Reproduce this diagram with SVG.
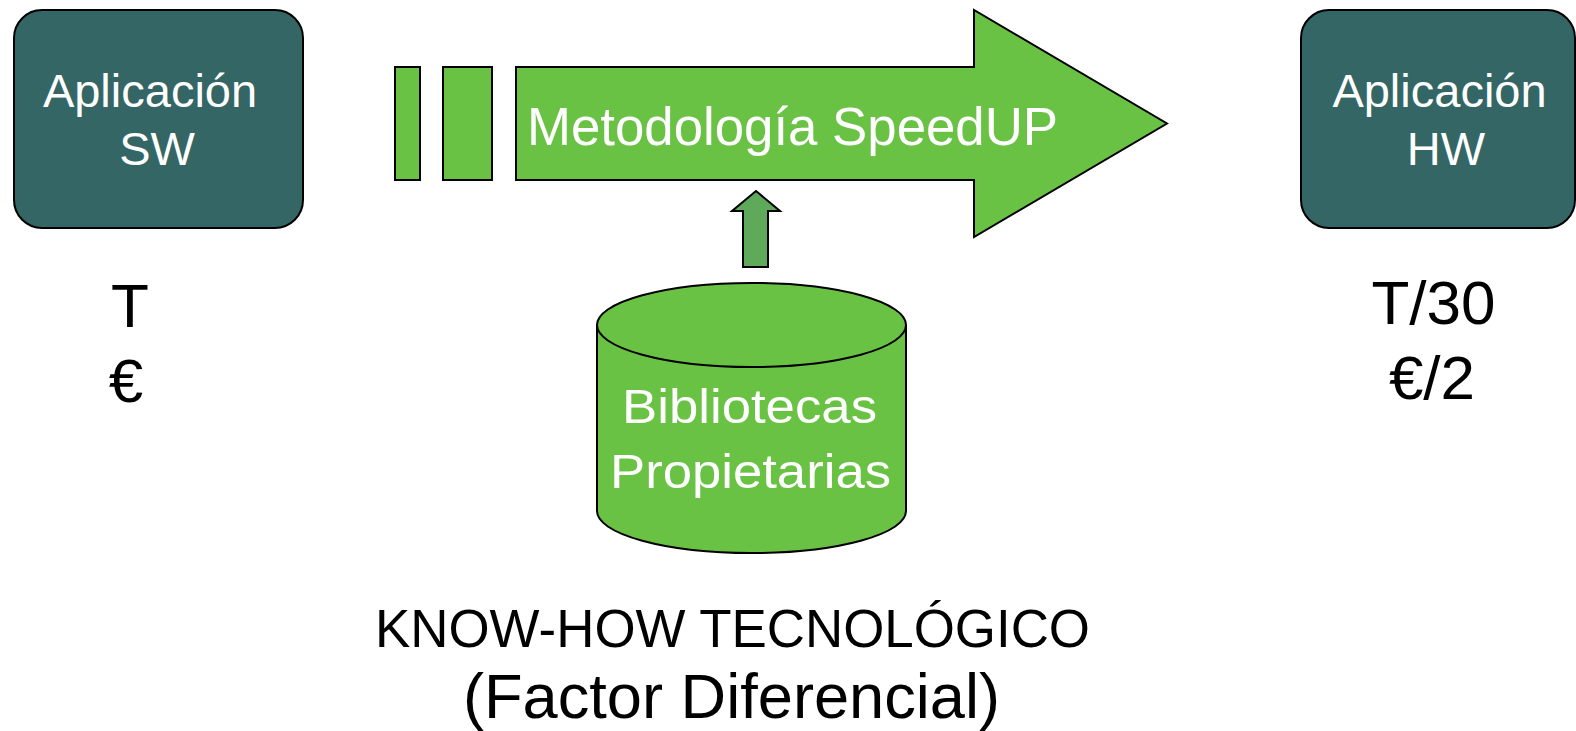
<svg xmlns="http://www.w3.org/2000/svg" width="1576" height="731" viewBox="0 0 1576 731">
<style>
.box{fill:#336664;stroke:#000;stroke-width:2}
.grn{fill:#6ac244;stroke:#000;stroke-width:2}
.up{fill:#5ea95a;stroke:#000;stroke-width:2}
text{font-family:"Liberation Sans",Arial,sans-serif}
.w{fill:#fff}
.k{fill:#000}
</style>
<rect width="1576" height="731" fill="#fff"/>
<g id="app-sw">
<rect class="box" x="14" y="10" width="289" height="218" rx="28"/>
<text class="w" x="150" y="107" font-size="47" text-anchor="middle">Aplicación</text>
<text class="w" x="157" y="165" font-size="47" text-anchor="middle">SW</text>
</g>
<g id="cost-sw">
<text class="k" x="130" y="327" font-size="62" text-anchor="middle">T</text>
<text class="k" x="126" y="402" font-size="62" text-anchor="middle">€</text>
</g>
<g id="metodologia">
<rect class="grn" x="395" y="67" width="25" height="113"/>
<rect class="grn" x="443" y="67" width="49" height="113"/>
<polygon class="grn" points="516,67 974,67 974,10 1167,123.5 974,237 974,180 516,180"/>
<text class="w" x="527" y="145" font-size="53" textLength="531" lengthAdjust="spacingAndGlyphs">Metodología SpeedUP</text>
</g>
<g id="app-hw">
<rect class="box" x="1301" y="10" width="274" height="218" rx="28"/>
<text class="w" x="1439.5" y="107" font-size="47" text-anchor="middle">Aplicación</text>
<text class="w" x="1446" y="165" font-size="47" text-anchor="middle">HW</text>
</g>
<g id="cost-hw">
<text class="k" x="1433.5" y="324" font-size="62" text-anchor="middle">T/30</text>
<text class="k" x="1432" y="399" font-size="62" text-anchor="middle">€/2</text>
</g>
<g id="connectors">
<polygon class="up" points="756,191 780,211 768,211 768,267 743,267 743,211 732,211"/>
</g>
<g id="bibliotecas">
<path class="grn" d="M597,325 L597,511 A154.5,42 0 0 0 906,511 L906,325"/>
<ellipse class="grn" cx="751.5" cy="325" rx="154.5" ry="42"/>
<text class="w" x="749.5" y="423" font-size="48" text-anchor="middle" textLength="255" lengthAdjust="spacingAndGlyphs">Bibliotecas</text>
<text class="w" x="750.5" y="488" font-size="48" text-anchor="middle" textLength="281" lengthAdjust="spacingAndGlyphs">Propietarias</text>
</g>
<g id="knowhow">
<text class="k" x="732.5" y="647" font-size="54" text-anchor="middle" textLength="715" lengthAdjust="spacingAndGlyphs">KNOW-HOW TECNOLÓGICO</text>
<text class="k" x="731.5" y="718" font-size="63" text-anchor="middle" textLength="537" lengthAdjust="spacingAndGlyphs">(Factor Diferencial)</text>
</g>
</svg>
